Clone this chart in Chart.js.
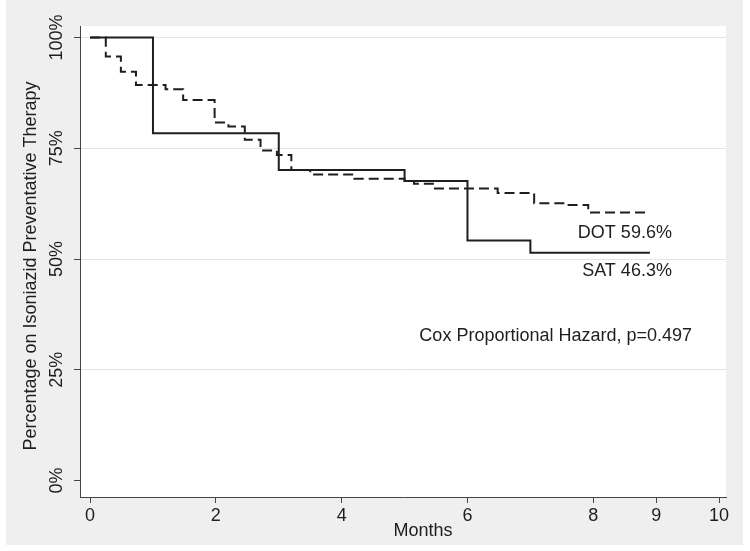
<!DOCTYPE html>
<html>
<head>
<meta charset="utf-8">
<script src="https://cdn.jsdelivr.net/npm/chart.js@4.4.0/dist/chart.umd.min.js"></script>
<style>
  html, body { margin: 0; padding: 0; background: #fff; }
</style>
</head>
<body>
<canvas id="kmChart" width="750" height="551"></canvas>
<script>
// Kaplan-Meier curves: months on therapy vs % still on IPT
const satMonths = [0, 1, 3, 5, 6, 7, 8.9];
const satPct = [100, 78.4, 70.1, 67.6, 54.2, 51.4, 51.4];

const dotMonths = [0, 0.25, 0.49, 0.73, 1.2, 1.48, 1.98, 2.2, 2.46, 2.71, 2.97, 3.2, 3.5, 4.2, 5.0, 5.15, 5.45, 6.48, 7.06, 7.55, 7.92, 8.9];
const dotPct = [100, 95.7, 92.3, 89.3, 88.3, 85.9, 80.8, 79.9, 76.9, 74.5, 73.5, 70.1, 69.1, 68.1, 67.6, 67.0, 65.9, 64.9, 62.6, 62.2, 60.5, 60.5];

const xTicks = [0, 2, 4, 6, 8, 9, 10];
const yTicks = [0, 25, 50, 75, 100];
const yTickLabels = ['0%', '25%', '50%', '75%', '100%'];

const xTitle = 'Months';
const yTitle = 'Percentage on Isoniazid Preventative Therapy';
const noteTexts = ['DOT 59.6%', 'SAT 46.3%', 'Cox Proportional Hazard, p=0.497'];
// where each note sits, in data units (right edge, vertical centre)
const notePos = [{ x: 9.25, y: 55.9 }, { x: 9.25, y: 47.2 }, { x: 9.57, y: 32.6 }];

const FONT = '"Liberation Sans", Arial, sans-serif';
const INK = '#1e1e1e';

function toPoints(xs, ys) {
    return xs.map((x, i) => ({ x: x, y: ys[i] }));
}

// Paints the grey frame, white plot area and all the text
const stataLook = {
    id: 'stataLook',
    beforeDraw(chart) {
        const { ctx, chartArea: a } = chart;
        ctx.save();
        ctx.fillStyle = '#ffffff';
        ctx.fillRect(0, 0, chart.width, chart.height);
        ctx.fillStyle = '#efefef';
        ctx.fillRect(6, 0, 737, 545);
        ctx.fillStyle = '#ffffff';
        ctx.fillRect(a.left, a.top, a.right - a.left, a.bottom - a.top);
        ctx.restore();
    },
    afterDraw(chart) {
        const { ctx } = chart;
        const xs = chart.scales.x;
        const ys = chart.scales.y;
        ctx.save();
        ctx.fillStyle = INK;
        ctx.font = '18px ' + FONT;

        // x tick labels
        ctx.textAlign = 'center';
        ctx.textBaseline = 'middle';
        xTicks.forEach(v => ctx.fillText(String(v), xs.getPixelForValue(v), 516));
        ctx.fillText(xTitle, 423, 531);

        // y tick labels, turned on their side
        yTicks.forEach((v, i) => {
            ctx.save();
            ctx.translate(57, ys.getPixelForValue(v));
            ctx.rotate(-Math.PI / 2);
            ctx.fillText(yTickLabels[i], 0, 0);
            ctx.restore();
        });
        ctx.save();
        ctx.translate(31, 266);
        ctx.rotate(-Math.PI / 2);
        ctx.fillText(yTitle, 0, 0);
        ctx.restore();

        // annotations inside the plot
        ctx.textAlign = 'right';
        noteTexts.forEach((t, i) => {
            ctx.fillText(t, xs.getPixelForValue(notePos[i].x), ys.getPixelForValue(notePos[i].y));
        });
        ctx.restore();
    }
};

const ctx = document.getElementById('kmChart').getContext('2d');
const kmChart = new Chart(ctx, {
    type: 'line',
    data: {
        datasets: [
            {
                label: 'SAT',
                data: toPoints(satMonths, satPct),
                stepped: true,
                borderColor: INK,
                borderWidth: 2,
                pointRadius: 0,
                fill: false
            },
            {
                label: 'DOT',
                data: toPoints(dotMonths, dotPct),
                stepped: true,
                borderColor: INK,
                borderWidth: 2,
                borderDash: [10, 5],
                pointRadius: 0,
                fill: false
            }
        ]
    },
    options: {
        responsive: false,
        animation: false,
        devicePixelRatio: 1,
        layout: { padding: { top: 26, right: 24, left: 0, bottom: 0 } },
        plugins: { legend: { display: false }, tooltip: { enabled: false } },
        scales: {
            x: {
                type: 'linear',
                min: -0.16,
                max: 10.11,
                afterBuildTicks: s => { s.ticks = xTicks.map(v => ({ value: v })); },
                afterFit: s => { s.height = 54; },
                ticks: { display: false },
                grid: { drawOnChartArea: false, drawTicks: true, tickLength: 6, color: '#444' },
                border: { display: true, color: '#444', width: 1 }
            },
            y: {
                type: 'linear',
                min: -3.7,
                max: 102.6,
                afterBuildTicks: s => { s.ticks = yTicks.map(v => ({ value: v })); },
                afterFit: s => { s.width = 80; },
                ticks: { display: false },
                grid: {
                    color: c => (c.tick && c.tick.value === 0) ? 'rgba(0,0,0,0)' : '#e4e4e4',
                    tickColor: '#444',
                    tickLength: 6,
                    lineWidth: 1
                },
                border: { display: true, color: '#444', width: 1 }
            }
        }
    },
    plugins: [stataLook]
});
</script>
</body>
</html>
